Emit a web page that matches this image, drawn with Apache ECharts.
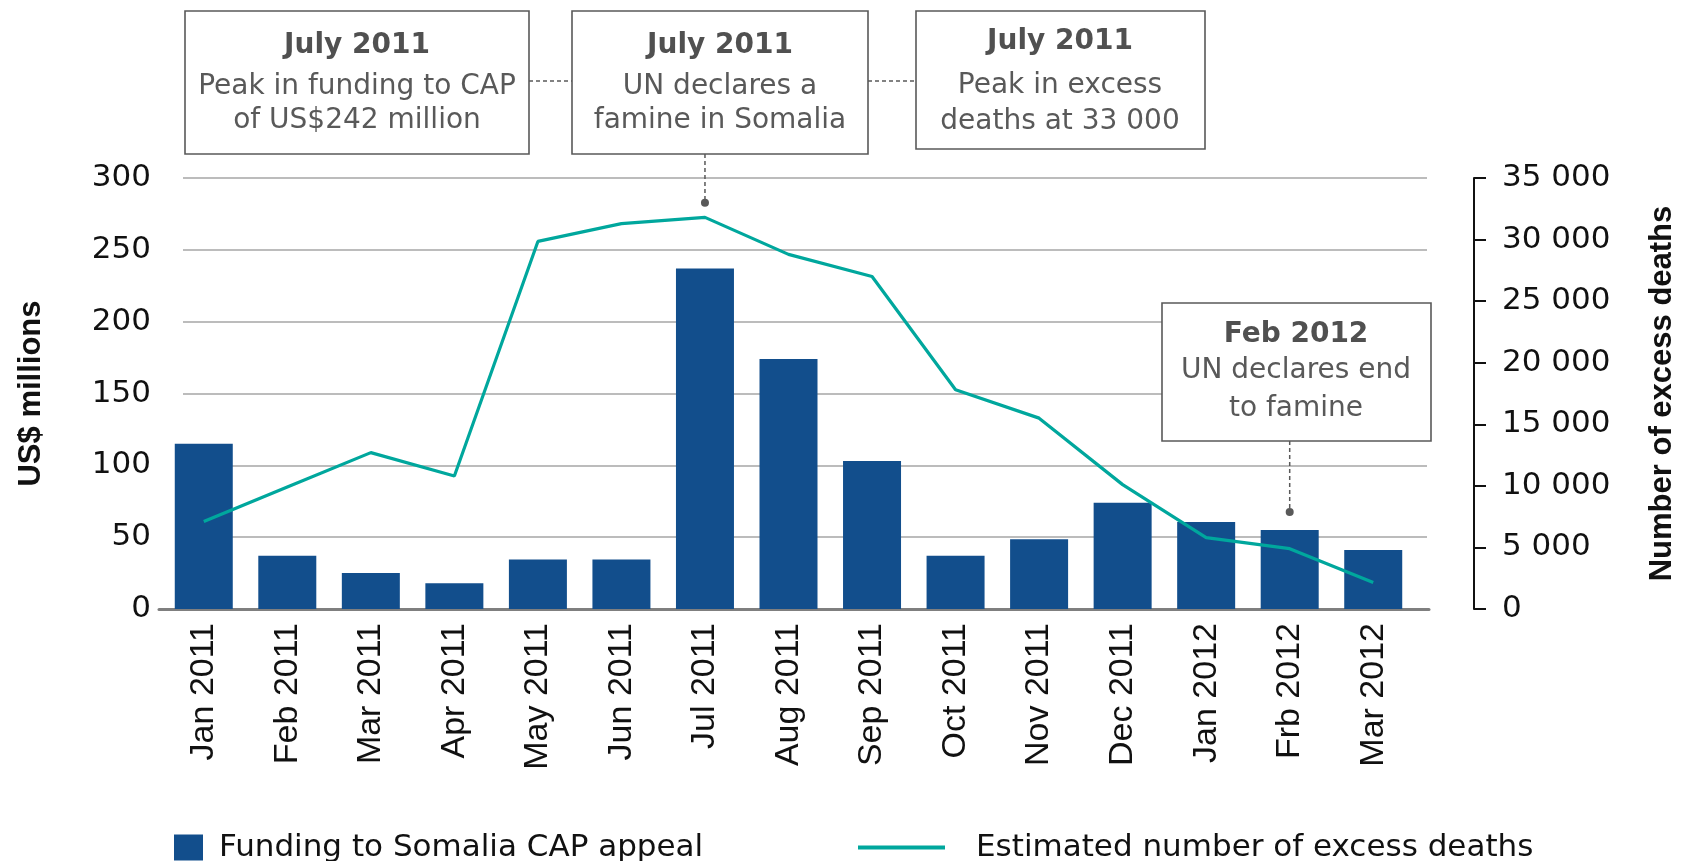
<!DOCTYPE html>
<html>
<head>
<meta charset="utf-8">
<script src="https://cdn.jsdelivr.net/npm/echarts@6/dist/echarts.min.js"></script>
<style>
html,body{margin:0;padding:0;background:#fff;}
#chart{width:1694px;height:861px;}
</style>
</head>
<body>
<div id="chart"></div>
<script>
const categories = ['Jan 2011','Feb 2011','Mar 2011','Apr 2011','May 2011','Jun 2011','Jul 2011','Aug 2011','Sep 2011','Oct 2011','Nov 2011','Dec 2011','Jan 2012','Frb 2012','Mar 2012'];
const funding = [115, 37, 25, 18, 34.5, 34.5, 237, 174, 103, 37, 48.5, 74, 60.5, 55, 41];
const deaths = [7100, 9900, 12700, 10800, 29850, 31300, 31800, 28800, 27000, 17800, 15500, 10100, 5800, 4900, 2150];
const leftTicks = [0, 50, 100, 150, 200, 250, 300];
const rightTicks = [0, 5000, 10000, 15000, 20000, 25000, 30000, 35000];
const seriesNames = ['Funding to Somalia CAP appeal', 'Estimated number of excess deaths'];
const noteTitles = ['July 2011', 'July 2011', 'July 2011', 'Feb 2012'];
const noteLines = [
  ['Peak in funding to CAP', 'of US$242 million'],
  ['UN declares a', 'famine in Somalia'],
  ['Peak in excess', 'deaths at 33 000'],
  ['UN declares end', 'to famine']
];

const BAR = '#124E8C', TEAL = '#00A79D', GRID = '#A6A6A6', BOXC = '#595959';
const SANS = '"DejaVu Sans", sans-serif';
const ARIAL = '"Liberation Sans", Arial, sans-serif';

const chart = echarts.init(document.getElementById('chart'), null, {renderer: 'canvas'});

const option = {
  backgroundColor: '#fff',
  animation: false,
  grid: [
    {left: 162, top: 178, width: 1253, height: 431, outerBoundsMode: 'none', containLabel: false},
    {left: 183, top: 178, width: 1244, height: 431, outerBoundsMode: 'none', containLabel: false},
    {left: 159, top: 178, width: 1270, height: 431, outerBoundsMode: 'none', containLabel: false}
  ],
  legend: [
    {
      data: [seriesNames[0]], left: 174, top: 832, orient: 'horizontal',
      itemWidth: 29, itemHeight: 26, icon: 'rect', padding: 0,
      textStyle: {fontFamily: SANS, fontSize: 31, color: '#111', padding: [0, 0, 0, 11], lineHeight: 26}
    },
    {
      data: [seriesNames[1]], left: 858, top: 832, orient: 'horizontal',
      itemWidth: 87, itemHeight: 4, icon: 'rect', padding: 0,
      textStyle: {fontFamily: SANS, fontSize: 31, color: '#111', padding: [0, 0, 0, 26], lineHeight: 26}
    }
  ],
  xAxis: [
    {
      type: 'category', gridIndex: 0, data: categories,
      axisLine: {show: false}, axisTick: {show: false},
      axisLabel: {rotate: 90, margin: 14, fontFamily: ARIAL, fontSize: 34, color: '#111', interval: 0}
    },
    {type: 'value', gridIndex: 1, show: false, min: 0, max: 1},
    {
      type: 'value', gridIndex: 2, min: 0, max: 1, position: 'bottom',
      axisLine: {show: true, onZero: false, lineStyle: {color: '#7F7F7F', width: 3}},
      axisTick: {show: false}, axisLabel: {show: false}, splitLine: {show: false}
    }
  ],
  yAxis: [
    {
      type: 'value', gridIndex: 0, position: 'left', min: leftTicks[0], max: leftTicks[leftTicks.length - 1], interval: 50,
      axisLine: {show: false}, axisTick: {show: false}, splitLine: {show: false},
      axisLabel: {margin: 11, fontFamily: SANS, fontSize: 31, color: '#111'},
      name: 'US$ millions', nameLocation: 'middle', nameRotate: 90, nameGap: 115,
      nameTextStyle: {fontFamily: ARIAL, fontWeight: 'bold', fontSize: 31, color: '#111'}
    },
    {
      type: 'value', gridIndex: 0, position: 'right', offset: 59,
      min: rightTicks[0], max: rightTicks[rightTicks.length - 1], interval: 5000,
      axisLine: {show: true, lineStyle: {color: '#111', width: 2}},
      axisTick: {show: true, length: 12, lineStyle: {color: '#111', width: 2}},
      splitLine: {show: false},
      axisLabel: {
        margin: 28, fontFamily: SANS, fontSize: 31, color: '#111',
        formatter: v => String(v).replace(/\B(?=(\d{3})+(?!\d))/g, ' ')
      },
      name: 'Number of excess deaths', nameLocation: 'middle', nameRotate: 90, nameGap: 173,
      nameTextStyle: {fontFamily: ARIAL, fontWeight: 'bold', fontSize: 31, color: '#111'}
    },
    {
      type: 'value', gridIndex: 1, min: 0, max: 300, interval: 50,
      axisLine: {show: false}, axisTick: {show: false}, axisLabel: {show: false},
      splitLine: {show: true, lineStyle: {color: GRID, width: 1.6}}
    },
    {type: 'value', gridIndex: 2, show: false, min: 0, max: 1}
  ],
  series: [
    {
      name: seriesNames[0], type: 'bar', xAxisIndex: 0, yAxisIndex: 0,
      data: funding, barWidth: 58, itemStyle: {color: BAR}, z: 3
    },
    {
      name: seriesNames[1], type: 'line', xAxisIndex: 0, yAxisIndex: 1,
      data: deaths, showSymbol: false, symbol: 'none',
      lineStyle: {color: TEAL, width: 3.2}, itemStyle: {color: TEAL}, z: 4
    }
  ]
};

chart.setOption(option);

function box(x, y, w, h, cx, title, lines, yTitle, yLines) {
  const els = [{
    type: 'rect', shape: {x: x, y: y, width: w, height: h},
    style: {fill: '#fff', stroke: BOXC, lineWidth: 1.6}, z: 10
  }, {
    type: 'text', x: cx, y: yTitle, z: 11,
    style: {text: title, align: 'center', verticalAlign: 'middle', fontFamily: SANS, fontWeight: 'bold', fontSize: 28, fill: '#505050'}
  }];
  lines.forEach((t, i) => els.push({
    type: 'text', x: cx, y: yLines[i], z: 11,
    style: {text: t, align: 'center', verticalAlign: 'middle', fontFamily: SANS, fontSize: 28, fill: BOXC}
  }));
  return els;
}
function dline(x1, y1, x2, y2) {
  return {type: 'line', shape: {x1: x1, y1: y1, x2: x2, y2: y2}, z: 9,
    style: {stroke: BOXC, lineWidth: 1.5, lineDash: [4, 3]}};
}
function dot(x, y) {
  return {type: 'circle', shape: {cx: x, cy: y, r: 4}, z: 12, style: {fill: BOXC}};
}

const julX = chart.convertToPixel({xAxisIndex: 0}, categories[6]);
const febX = chart.convertToPixel({xAxisIndex: 0}, categories[13]);
const julDotY = chart.convertToPixel({yAxisIndex: 1}, 33000);

let els = [];
els = els.concat(box(185, 11, 344, 143, 357, noteTitles[0], noteLines[0], 46, [87, 121]));
els = els.concat(box(572, 11, 296, 143, 720, noteTitles[1], noteLines[1], 46, [87, 121]));
els = els.concat(box(916, 11, 289, 138, 1060, noteTitles[2], noteLines[2], 42, [86, 122]));
els = els.concat(box(1162, 303, 269, 138, 1296, noteTitles[3], noteLines[3], 335, [371, 409]));
els.push(dline(529, 81, 572, 81));
els.push(dline(868, 81, 916, 81));
els.push(dline(julX, 154, julX, julDotY));
els.push(dot(julX, julDotY));
els.push(dline(febX, 441, febX, 512));
els.push(dot(febX, 512));

chart.setOption({graphic: {elements: els}});
</script>
</body>
</html>
